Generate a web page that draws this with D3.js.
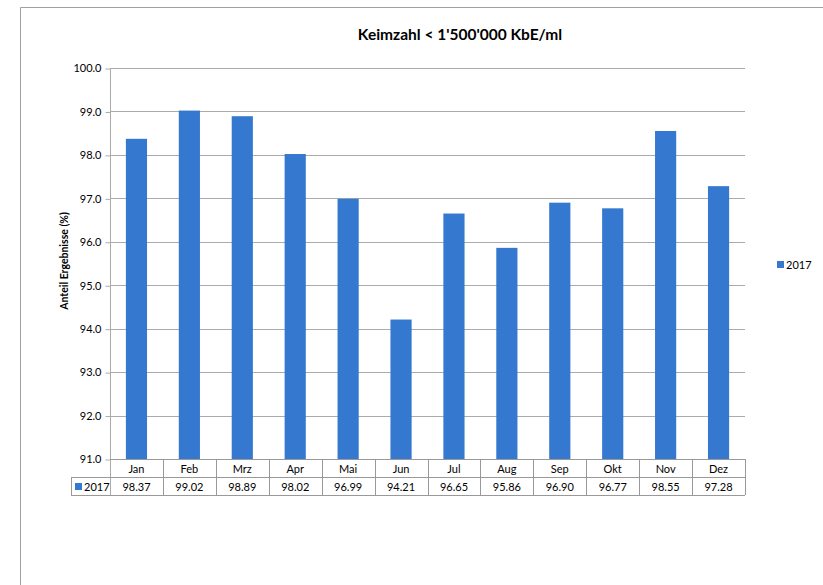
<!DOCTYPE html>
<html><head><meta charset="utf-8">
<script src="https://cdn.jsdelivr.net/npm/d3@7"></script>
<style>
html,body{margin:0;padding:0;background:#fff;}
svg text{font-family:Lato,"Open Sans",sans-serif;fill:#000;}
</style></head>
<body>
<svg id="c" width="823" height="585"></svg>
<script>
const categories = ["Jan","Feb","Mrz","Apr","Mai","Jun","Jul","Aug","Sep","Okt","Nov","Dez"];
const seriesName = "2017";
const values = [98.37,99.02,98.89,98.02,96.99,94.21,96.65,95.86,96.90,96.77,98.55,97.28];
const yTicks = [91,92,93,94,95,96,97,98,99,100];
const title = "Keimzahl < 1'500'000 KbE/ml";
const yLabel = "Anteil Ergebnisse (%)";

const svg = d3.select("#c");
const blue = "#3478cf", grid = "#ababab";
const L = 110, R = 745, T = 68, B = 459;
const rowH = 18;

// outer frame
svg.append("path").attr("d","M20.5,585 L20.5,7.5 L823,7.5").attr("fill","none").attr("stroke","#a0a0a0").attr("stroke-width",1);

const x = d3.scaleBand().domain(categories).range([L,R]).paddingInner(0.6).paddingOuter(0.3);
const xCell = d3.scaleBand().domain(categories).range([L,R]);
const y = d3.scaleLinear().domain([91,100]).range([B,T]);

// gridlines
svg.append("g").selectAll("line").data(yTicks.filter(d=>d>91)).join("line")
  .attr("x1",L).attr("x2",R).attr("y1",d=>Math.round(y(d))+0.5).attr("y2",d=>Math.round(y(d))+0.5)
  .attr("stroke",grid).attr("stroke-width",1);

// y axis
const ya = svg.append("g").attr("transform",`translate(${L+0.5},0)`)
  .call(d3.axisLeft(y).tickValues(yTicks).tickFormat(d3.format(".1f")).tickSize(5).tickSizeOuter(0));
ya.select(".domain").remove();
ya.selectAll(".tick line").attr("stroke",grid).attr("transform","translate(0,0.5)");
ya.selectAll(".tick text").attr("font-size",11).attr("x",-9).attr("dy","0.35em").style("font-family","Lato,sans-serif");

// bars
svg.append("g").selectAll("rect").data(values).join("rect")
  .attr("x",(d,i)=>x(categories[i])).attr("width",x.bandwidth())
  .attr("y",d=>y(d)).attr("height",d=>B-y(d)).attr("fill",blue);

// axis left line through table
svg.append("line").attr("x1",L+0.5).attr("x2",L+0.5).attr("y1",T).attr("y2",B+2*rowH).attr("stroke",grid);

// data table
const tbl = svg.append("g");
tbl.append("line").attr("x1",L).attr("x2",R).attr("y1",B+0.5).attr("y2",B+0.5).attr("stroke","#999");
tbl.append("line").attr("x1",71).attr("x2",R).attr("y1",B+rowH+0.5).attr("y2",B+rowH+0.5).attr("stroke","#999");
tbl.append("line").attr("x1",71).attr("x2",R).attr("y1",B+2*rowH+0.5).attr("y2",B+2*rowH+0.5).attr("stroke","#999");
tbl.append("line").attr("x1",71.5).attr("x2",71.5).attr("y1",B+rowH).attr("y2",B+2*rowH).attr("stroke","#999");
tbl.selectAll("line.v").data(categories).join("line").attr("class","v")
  .attr("x1",d=>Math.round(xCell(d)+xCell.bandwidth())+0.5).attr("x2",d=>Math.round(xCell(d)+xCell.bandwidth())+0.5)
  .attr("y1",B).attr("y2",B+2*rowH).attr("stroke","#999");
tbl.selectAll("text.cat").data(categories).join("text").attr("class","cat")
  .attr("x",d=>xCell(d)+xCell.bandwidth()/2).attr("y",B+rowH/2+1).attr("dy","0.35em")
  .attr("text-anchor","middle").attr("font-size",11).text(d=>d);
tbl.selectAll("text.val").data(values).join("text").attr("class","val")
  .attr("x",(d,i)=>xCell(categories[i])+xCell.bandwidth()/2).attr("y",B+rowH*1.5+1).attr("dy","0.35em")
  .attr("text-anchor","middle").attr("font-size",11).text(d=>d.toFixed(2));
tbl.append("rect").attr("x",75).attr("y",B+rowH+6).attr("width",7).attr("height",7).attr("fill",blue);
tbl.append("text").attr("x",84).attr("y",B+rowH*1.5+1).attr("dy","0.35em").attr("font-size",11).text(seriesName);

// title
svg.append("text").attr("x",460).attr("y",40).attr("text-anchor","middle").attr("font-size",15.5)
  .attr("font-weight","bold").text(title);

// y label
svg.append("text").attr("transform","translate(68,261) rotate(-90)").attr("text-anchor","middle")
  .attr("font-size",10.5).attr("font-weight","bold").text(yLabel);

// legend
svg.append("rect").attr("x",777).attr("y",261).attr("width",7).attr("height",7).attr("fill",blue);
svg.append("text").attr("x",786).attr("y",265).attr("dy","0.35em").attr("font-size",11).text(seriesName);
</script>
</body></html>
